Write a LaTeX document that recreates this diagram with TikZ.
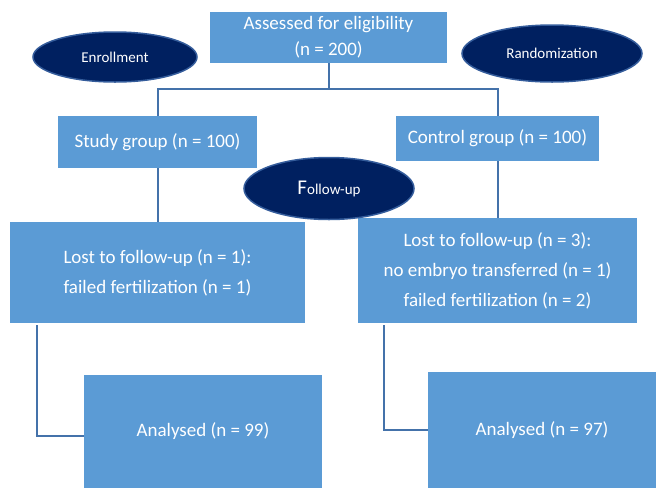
\documentclass[tikz,border=0pt]{standalone}
\usepackage{fontspec}
\setmainfont{Carlito}
\usepackage{tikz}
\usetikzlibrary{positioning, shapes.geometric}
\usepackage{xcolor}
\definecolor{boxblue}{RGB}{91, 155, 213}
\definecolor{navy}{RGB}{0, 32, 96}
\definecolor{navyedge}{RGB}{52, 92, 155}
\definecolor{linkblue}{RGB}{68, 114, 170}

\begin{document}
\begin{tikzpicture}[x=1pt, y=-1pt,
        % Node styles
        stage/.style={fill=boxblue, draw=none, inner sep=0pt, text=white, align=center, font=\fontsize{19}{26}\selectfont},
        phase/.style={ellipse, fill=navy, draw=navyedge, line width=1.5pt, inner sep=0pt, text=white, font=\fontsize{15}{15}\selectfont},
        link/.style={draw=linkblue, line width=2pt}
    ]
    \useasboundingbox (0,0) rectangle (656,488);

    % Top: assessment
    \node[stage, minimum width=237pt, minimum height=51pt] (assess) at (328.5, 37.5) {Assessed for eligibility\\(n = 200)};

    % Arms
    \node[stage, minimum width=199pt, minimum height=52pt] (study) at (157.5, 142) {Study group (n = 100)};
    \node[stage, minimum width=203pt, minimum height=45pt] (control) at (497.5, 138.5) {Control group (n = 100)};

    % Losses
    \node[stage, minimum width=295pt, minimum height=101pt, font=\fontsize{19}{30}\selectfont] (lostL) at (157.5, 272.5) {Lost to follow-up (n = 1):\\failed fertilization (n = 1)};
    \node[stage, minimum width=279pt, minimum height=105pt, font=\fontsize{19}{30}\selectfont] (lostR) at (497.5, 270.5) {Lost to follow-up (n = 3):\\no embryo transferred (n = 1)\\failed fertilization (n = 2)};

    % Analysis
    \node[stage, minimum width=238pt, minimum height=113pt] (anaL) at (203, 431.5) {Analysed (n = 99)};
    \node[stage, minimum width=228pt, minimum height=116pt] (anaR) at (542, 430) {Analysed (n = 97)};

    % Connectors
    \coordinate (split) at (328.5, 89);
    \draw[link] (assess.south) -- (split);
    \draw[link] (split) -| (study.north);
    \draw[link] (split) -| (control.north);
    \draw[link] (study.south) -- (lostL.north);
    \draw[link] (control.south) -- (lostR.north);
    \draw[link] ([xshift=27pt, yshift=-2pt]lostL.south west) |- ([yshift=-4pt]anaL.west);
    \draw[link] ([xshift=26pt, yshift=-2pt]lostR.south west) |- (anaR.west);

    % Phase labels
    \node[phase, minimum width=164pt, minimum height=50pt] (enrol) at (115, 57) {Enrollment};
    \node[phase, minimum width=180pt, minimum height=57pt] (rand) at (552, 53.5) {Randomization};
    \node[phase, minimum width=170pt, minimum height=62pt] (follow) at (329, 188.5) {{\fontsize{21}{21}\selectfont F}ollow-up};

\end{tikzpicture}
\end{document}
